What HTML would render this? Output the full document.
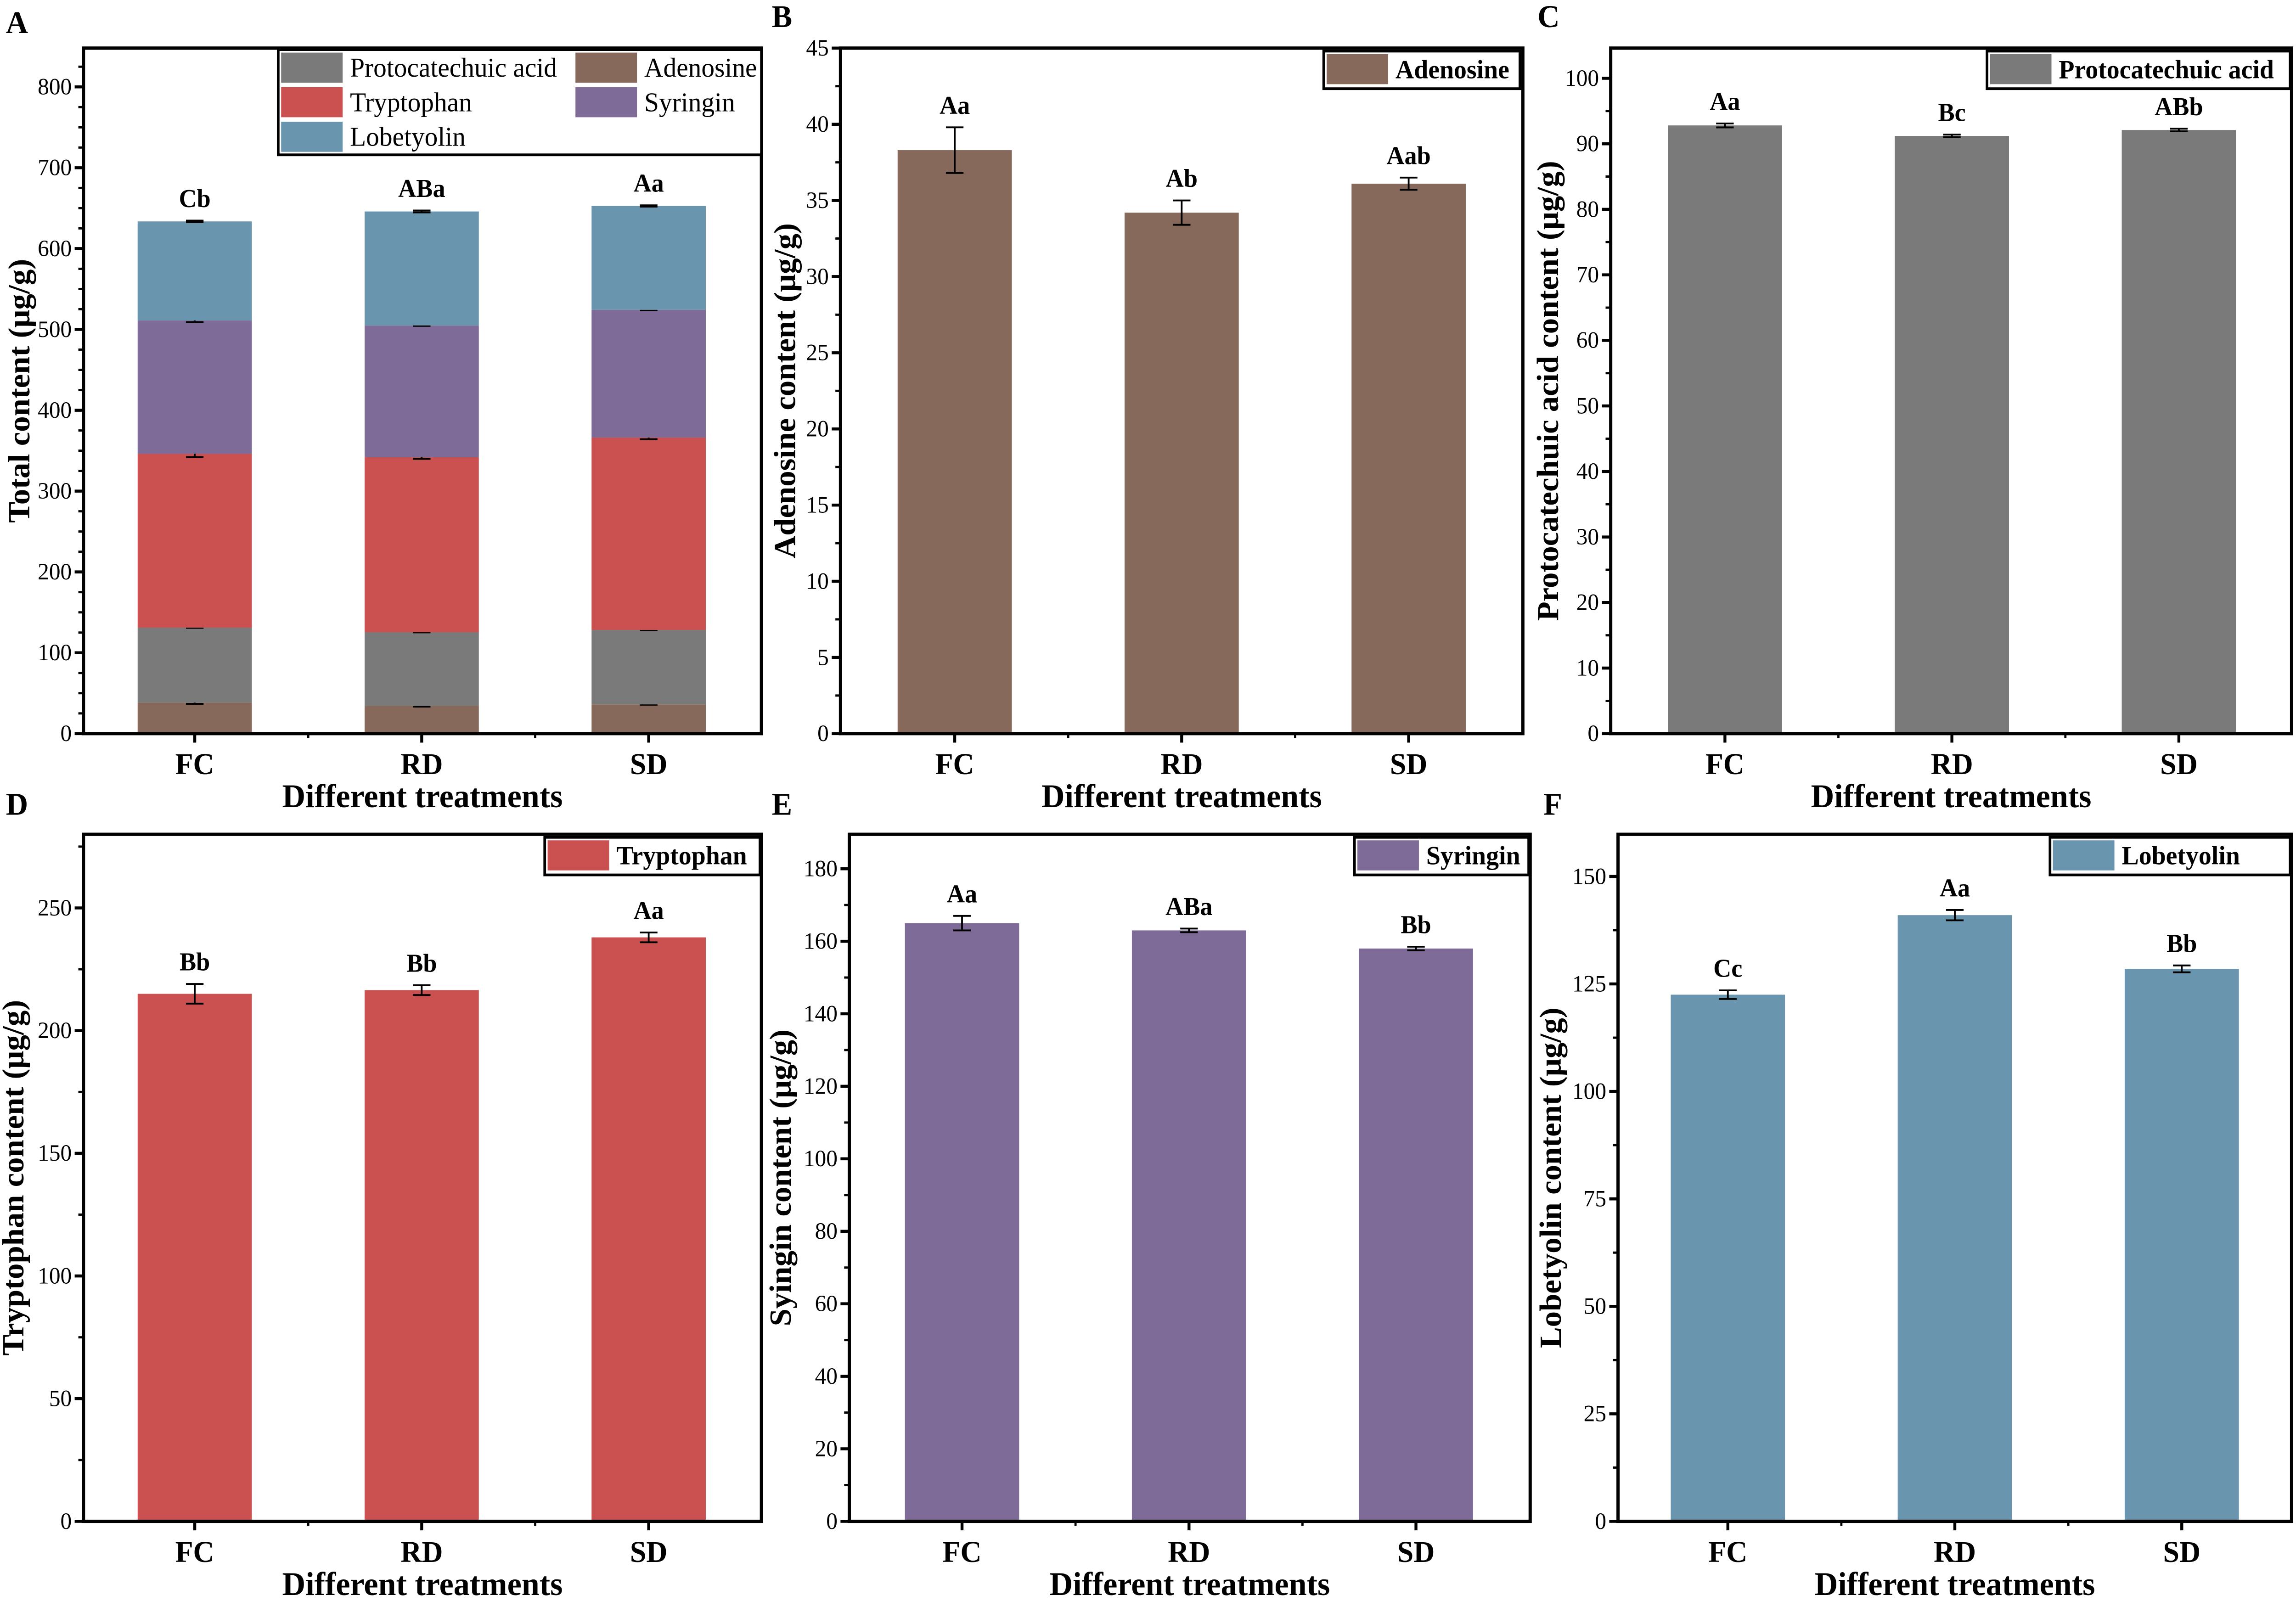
<!DOCTYPE html>
<html><head><meta charset="utf-8"><style>
html,body{margin:0;padding:0;background:#fff;overflow:hidden;width:100%;height:100%}
svg{display:block;position:fixed;left:0;top:0;width:100vw;height:100vh}
text{font-family:"Liberation Serif",serif}
</style></head><body>
<svg id="fig" viewBox="0 0 1568 1065" preserveAspectRatio="none" xmlns="http://www.w3.org/2000/svg"></svg>
<script>
const categories = ["FC","RD","SD"];
const adenosine = [38.3,34.2,36.1];
const adenosineErr = [1.5,0.8,0.4];
const protocatechuic = [92.8,91.2,92.1];
const protocatechuicErr = [0.3,0.2,0.2];
const tryptophan = [215,216.5,238];
const tryptophanErr = [4,2,2];
const syringin = [165,163,158];
const syringinErr = [2,0.5,0.5];
const lobetyolin = [122.5,141,128.5];
const lobetyolinErr = [1,1.2,0.8];
const lettersA = ["Cb","ABa","Aa"];
const lettersB = ["Aa","Ab","Aab"];
const lettersC = ["Aa","Bc","ABb"];
const lettersD = ["Bb","Bb","Aa"];
const lettersE = ["Aa","ABa","Bb"];
const lettersF = ["Cc","Aa","Bb"];
const ticksA = [0,100,200,300,400,500,600,700,800];
const ticksB = [0,5,10,15,20,25,30,35,40,45];
const ticksC = [0,10,20,30,40,50,60,70,80,90,100];
const ticksD = [0,50,100,150,200,250];
const ticksE = [0,20,40,60,80,100,120,140,160,180];
const ticksF = [0,25,50,75,100,125,150];

const COL = {ade:"#86695a",pro:"#7a7a7a",try:"#cb5150",syr:"#7f6b97",lob:"#6a95ae"};
const svg = document.getElementById('fig');
const NS = "http://www.w3.org/2000/svg";
function mk(tag, attrs, parent){const e=document.createElementNS(NS,tag);for(const k in attrs)e.setAttribute(k,attrs[k]);(parent||svg).appendChild(e);return e;}
function txt(s, attrs, parent){const e=mk('text',attrs,parent);e.textContent=s;return e;}

function panel(o){
  const g = mk('g',{});
  
  
  const {x0,x1,y0,y1,max} = o;
  const ys = v => y1 - v/max*(y1-y0);
  const step = (o.centers[1]-o.centers[0]);
  const lbl = txt(o.id,{x:o.lx,y:o.ly,'font-family':'Liberation Sans, sans-serif','font-weight':'bold','font-size':21,fill:'#000'},g);
  
  
  categories.forEach((c,i)=>{
    let base=0;
    o.series.forEach(s=>{
      const v=s.vals[i];
      const r=mk('rect',{x:o.centers[i]-39,y:ys(base+v),width:78,height:ys(base)-ys(base+v),fill:s.color},g);
      
      
      base+=v;
      const e=s.err[i], cx=o.centers[i];
      const eb=mk('path',{d:`M${cx},${ys(base-e)}V${ys(base+e)}M${cx-6},${ys(base-e)}H${cx+6}M${cx-6},${ys(base+e)}H${cx+6}`,stroke:'#000','stroke-width':1.2,fill:'none'},g);
      
      
    });
    const top = o.series.reduce((a,s)=>a+s.vals[i]+ (s===o.series[o.series.length-1]?s.err[i]:0),0);
    const t=txt(o.letters[i],{x:o.centers[i],y:ys(top)-9,'text-anchor':'middle','font-weight':'bold','font-size':17},g);
    
    
    const cl=txt(c,{x:o.centers[i],y:y1+27,'text-anchor':'middle','font-weight':'bold','font-size':20},g);
    
    
    mk('line',{x1:o.centers[i],x2:o.centers[i],y1:y1,y2:y1+6,stroke:'#000','stroke-width':2},g);
    if(i<2) mk('line',{x1:o.centers[i]+step/2,x2:o.centers[i]+step/2,y1:y1,y2:y1+3,stroke:'#000','stroke-width':1.5},g);
  });
  const ts=o.ticks, dt=ts[1]-ts[0];
  ts.forEach(v=>{
    mk('line',{x1:x0-6,x2:x0,y1:ys(v),y2:ys(v),stroke:'#000','stroke-width':2},g);
    const m=v+dt/2; if(m<max) mk('line',{x1:x0-3.5,x2:x0,y1:ys(m),y2:ys(m),stroke:'#000','stroke-width':1.5},g);
    const t=txt(String(v),{x:x0-8,y:ys(v)+5,'text-anchor':'end','font-size':15.5},g);
    
    
  });
  if(o.sub){
    for(let v=dt/4; v<max; v+=dt/2){ mk('line',{x1:x0-3.5,x2:x0,y1:ys(v),y2:ys(v),stroke:'#000','stroke-width':1.5},g);}
  }
  const fr=mk('rect',{x:x0,y:y0,width:x1-x0,height:y1-y0,fill:'none',stroke:'#000','stroke-width':2.2},g);
  
  
  const xt=txt('Different treatments',{x:(x0+x1)/2,y:y1+49,'text-anchor':'middle','font-weight':'bold','font-size':22},g);
  
  
  const yt=txt(o.ytitle,{x:0,y:0,transform:`translate(${o.ytx},${(y0+y1)/2}) rotate(-90)`,'text-anchor':'middle','font-weight':'bold','font-size':21},g);
  
  
  if(o.legend){
    const L=o.legend;
    const lb=mk('rect',{x:L.x,y:L.y,width:L.w,height:L.h,fill:'#fff',stroke:'#000','stroke-width':1.8},g);
    
    
    L.items.forEach(it=>{
      mk('rect',{x:it.x,y:it.y,width:42,height:20,fill:it.color},g);
      const t=txt(it.label,{x:it.x+47,y:it.y+16,'font-size':L.fs||17.5,'font-weight':L.bold?'bold':'normal'},g);
      
      
    });
  }
}

panel({id:'A',lx:4,ly:22,x0:57,x1:520,y0:32,y1:488,max:848,centers:[133,288,443],ticks:ticksA,letters:lettersA,ytx:20,
  ytitle:'Total content (μg/g)',sub:true,
  series:[{key:'adenosine',vals:adenosine,err:adenosineErr,color:COL.ade},
          {key:'protocatechuic',vals:protocatechuic,err:protocatechuicErr,color:COL.pro},
          {key:'tryptophan',vals:tryptophan,err:tryptophanErr,color:COL.try},
          {key:'syringin',vals:syringin,err:syringinErr,color:COL.syr},
          {key:'lobetyolin',vals:lobetyolin,err:lobetyolinErr,color:COL.lob}],
  legend:{x:190,y:33,w:330,h:70,fs:18,items:[
    {x:192,y:35,color:COL.pro,label:'Protocatechuic acid'},
    {x:393,y:35,color:COL.ade,label:'Adenosine'},
    {x:192,y:58,color:COL.try,label:'Tryptophan'},
    {x:393,y:58,color:COL.syr,label:'Syringin'},
    {x:192,y:81,color:COL.lob,label:'Lobetyolin'}]}});
panel({id:'B',lx:527,ly:18,x0:574,x1:1040,y0:32,y1:488,max:45,centers:[652,807,962],ticks:ticksB,letters:lettersB,ytx:543,
  ytitle:'Adenosine content (μg/g)',
  series:[{key:'adenosine',vals:adenosine,err:adenosineErr,color:COL.ade}],
  legend:{x:904,y:34,w:134,h:25,bold:true,items:[{x:906,y:36,color:COL.ade,label:'Adenosine'}]}});
panel({id:'C',lx:1050,ly:18,x0:1100,x1:1565,y0:32,y1:488,max:104.6,centers:[1178,1333,1488],ticks:ticksC,letters:lettersC,ytx:1064,
  ytitle:'Protocatechuic acid content (μg/g)',
  series:[{key:'protocatechuic',vals:protocatechuic,err:protocatechuicErr,color:COL.pro}],
  legend:{x:1357,y:34,w:207,h:25,bold:true,items:[{x:1359,y:36,color:COL.pro,label:'Protocatechuic acid'}]}});
panel({id:'D',lx:4,ly:542,x0:57,x1:520,y0:555,y1:1012,max:280,centers:[133,288,443],ticks:ticksD,letters:lettersD,ytx:16,
  ytitle:'Tryptophan content (μg/g)',
  series:[{key:'tryptophan',vals:tryptophan,err:tryptophanErr,color:COL.try}],
  legend:{x:372,y:557,w:147,h:25,bold:true,items:[{x:374,y:559,color:COL.try,label:'Tryptophan'}]}});
panel({id:'E',lx:527,ly:542,x0:580,x1:1045,y0:555,y1:1012,max:189.5,centers:[657,812,967],ticks:ticksE,letters:lettersE,ytx:540,
  ytitle:'Syingin content (μg/g)',
  series:[{key:'syringin',vals:syringin,err:syringinErr,color:COL.syr}],
  legend:{x:925,y:557,w:119,h:25,bold:true,items:[{x:927,y:559,color:COL.syr,label:'Syringin'}]}});
panel({id:'F',lx:1054,ly:542,x0:1105,x1:1565,y0:555,y1:1012,max:159.8,centers:[1180,1335,1490],ticks:ticksF,letters:lettersF,ytx:1066,
  ytitle:'Lobetyolin content (μg/g)',
  series:[{key:'lobetyolin',vals:lobetyolin,err:lobetyolinErr,color:COL.lob}],
  legend:{x:1400,y:557,w:164,h:25,bold:true,items:[{x:1402,y:559,color:COL.lob,label:'Lobetyolin'}]}});
</script>
</body></html>
